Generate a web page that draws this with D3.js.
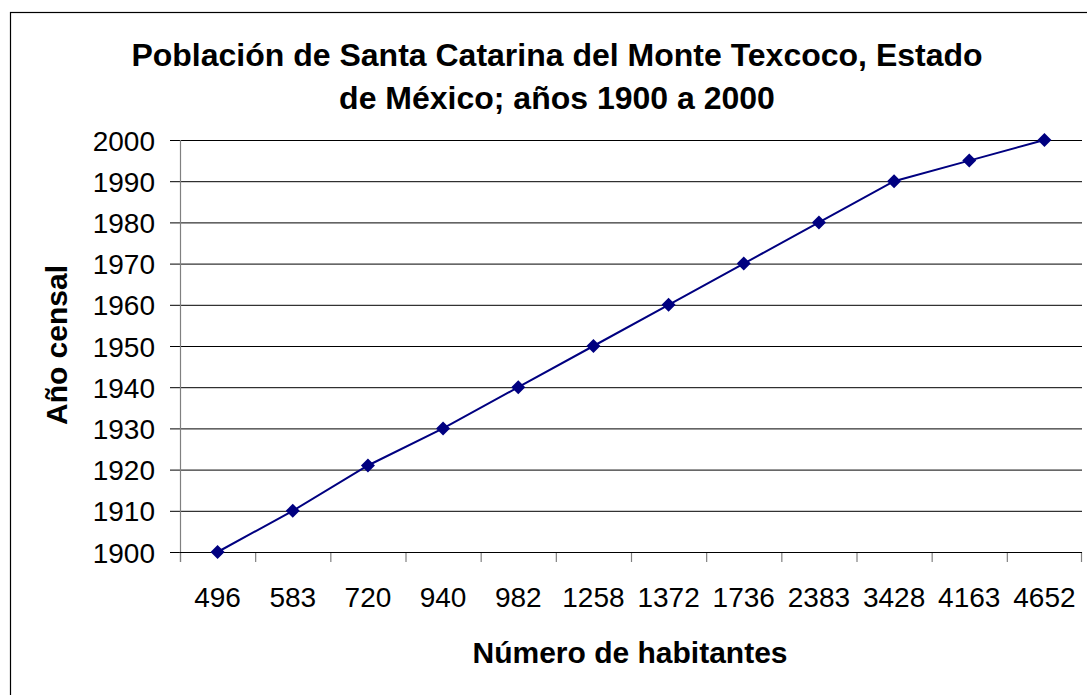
<!DOCTYPE html>
<html>
  <body style="margin:0">
    <style>
      text {
        font-family: "Liberation Sans", Arial, sans-serif;
        fill: #000;
      }
    </style>
    <script src="https://d3js.org/d3.v7.min.js"></script>
    <script type="text/javascript">
      // Población de Santa Catarina del Monte Texcoco: year vs inhabitants
      const habitantes = ['496', '583', '720', '940', '982', '1258', '1372', '1736', '2383', '3428', '4163', '4652'];
      const anios = [1900, 1910, 1921, 1930, 1940, 1950, 1960, 1970, 1980, 1990, 1995, 2000];
      const yTicks = [1900, 1910, 1920, 1930, 1940, 1950, 1960, 1970, 1980, 1990, 2000];

      const width = 1087;
      const height = 695;
      const margin = { left: 180, right: 5, top: 140, bottom: 143 };

      const svg = d3.select('body')
        .append('svg')
        .attr('width', width)
        .attr('height', height);

      // outer chart border (runs off the right and bottom edges)
      svg.append('rect')
        .attr('x', 10.5)
        .attr('y', 12.5)
        .attr('width', 1200)
        .attr('height', 800)
        .attr('fill', '#fff')
        .attr('stroke', '#000')
        .attr('stroke-width', 1.2);

      const x = d3.scaleBand()
        .domain(habitantes)
        .range([margin.left, width - margin.right]);

      const y = d3.scaleLinear()
        .domain([1900, 2000])
        .range([height - margin.bottom, margin.top]);

      // gridlines + left ticks
      const yAxis = svg.append('g')
        .attr('transform', `translate(${margin.left},0)`)
        .call(d3.axisLeft(y)
          .tickValues(yTicks)
          .tickFormat(d3.format('d'))
          .tickSize(10)
          .tickPadding(15));
      yAxis.select('.domain').remove();
      yAxis.selectAll('.tick line').attr('stroke', '#000');
      yAxis.selectAll('.tick').append('line')
        .attr('x1', 0)
        .attr('x2', width - margin.right - margin.left)
        .attr('stroke', '#000');
      yAxis.selectAll('text')
        .style('font-size', '28px')
        .attr('dy', '0.36em');

      // vertical axis line
      svg.append('line')
        .attr('x1', margin.left + 0.5)
        .attr('x2', margin.left + 0.5)
        .attr('y1', y(2000))
        .attr('y2', y(1900) + 10)
        .attr('stroke', '#808080')
        .attr('stroke-width', 1.2);

      // bottom axis: labels centred, ticks on category boundaries
      const xAxis = svg.append('g')
        .attr('transform', `translate(0,${y(1900)})`)
        .call(d3.axisBottom(x).tickSize(0).tickPadding(35));
      xAxis.select('.domain').remove();
      xAxis.selectAll('text').style('font-size', '28px');

      svg.append('g')
        .selectAll('line')
        .data(habitantes.concat(['end']))
        .join('line')
        .attr('x1', (d) => d === 'end' ? x.range()[1] - 0.5 : x(d) + 0.5)
        .attr('x2', (d) => d === 'end' ? x.range()[1] - 0.5 : x(d) + 0.5)
        .attr('y1', y(1900))
        .attr('y2', y(1900) + 10)
        .attr('stroke', '#808080')
        .attr('stroke-width', 1.2);

      svg.append('line')
        .attr('x1', x.range()[0])
        .attr('x2', x.range()[1])
        .attr('y1', y(1900) + 0.5)
        .attr('y2', y(1900) + 0.5)
        .attr('stroke', '#000')
        .attr('stroke-width', 1.2);

      // series line
      const cx = (d, i) => x(habitantes[i]) + x.bandwidth() / 2;
      const line = d3.line()
        .x(cx)
        .y((d) => y(d));

      svg.append('path')
        .datum(anios)
        .attr('d', line)
        .attr('fill', 'none')
        .attr('stroke', '#000080')
        .attr('stroke-width', 2);

      svg.append('g')
        .selectAll('path')
        .data(anios)
        .join('path')
        .attr('transform', (d, i) => `translate(${cx(d, i)},${y(d)})`)
        .attr('d', 'M0,-7L7,0L0,7L-7,0Z')
        .attr('fill', '#000080');

      // titles
      const title = svg.append('text')
        .attr('text-anchor', 'middle')
        .style('font-size', '32px')
        .style('font-weight', 'bold');
      title.append('tspan').attr('x', 557).attr('y', 66)
        .text('Población de Santa Catarina del Monte Texcoco, Estado');
      title.append('tspan').attr('x', 557).attr('y', 109)
        .text('de México; años 1900 a 2000');

      svg.append('text')
        .attr('x', 630)
        .attr('y', 663)
        .attr('text-anchor', 'middle')
        .style('font-size', '30px')
        .style('font-weight', 'bold')
        .text('Número de habitantes');

      svg.append('text')
        .attr('transform', 'translate(67,345) rotate(-90)')
        .attr('text-anchor', 'middle')
        .style('font-size', '30px')
        .style('font-weight', 'bold')
        .text('Año censal');
    </script>
  </body>
</html>
